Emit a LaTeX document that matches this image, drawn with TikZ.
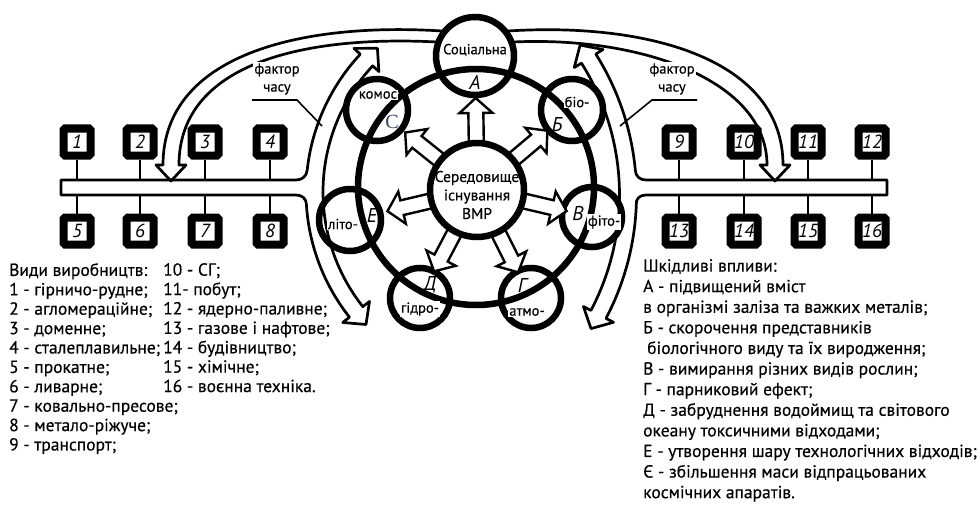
\documentclass[tikz,border=0pt]{standalone}
\usepackage{fontspec}
\setmainfont{PT Sans}
\newfontfamily\legfont{PT Sans}[FakeBold=0.4]
\newfontfamily\seriffont{Liberation Serif}
\usetikzlibrary{calc}
\definecolor{slateC}{RGB}{58,66,96}
\begin{document}
\begin{tikzpicture}[x=1pt, y=-1pt,
  band/.style={line width=2.7pt, line join=round},
  thickring/.style={draw, circle, line width=6.5pt, inner sep=0pt},
  prodbox/.style={draw, line width=8pt, fill=white, minimum width=27pt, minimum height=27pt,
    inner sep=0pt, rounded corners=1.5pt, font=\itshape\fontsize{19}{19}\selectfont},
  stub/.style={line width=1.6pt},
  hollow/.style={draw, line width=2.4pt, fill=white, line join=miter},
  satlbl/.style={fill=white, inner sep=1pt, font=\legfont\fontsize{14.5}{14.5}\selectfont},
  letter/.style={inner sep=0pt, font=\itshape\fontsize{20}{20}\selectfont},
  ptr/.style={line width=1.6pt},
  note/.style={fill=white, inner sep=1pt, align=center, font=\legfont\fontsize{14.5}{18}\selectfont},
  legend/.style={anchor=north west, inner sep=0pt, align=left}
]
\useasboundingbox (0,0) rectangle (979,508);

% left collector bar merged with the double-headed arc band
\draw[band] (61,195) -- (61,180) -- (296,180)
  .. controls (302.5,180) and (306.6,176) .. (307.2,170)
  -- plot[domain=186.25:223, samples=40, variable=\t] ({508+202*cos(\t)},{192+202*sin(\t)})
  -- (354.0,48.4) -- (377.4,48.3) -- (378.9,71.6)
  -- plot[domain=223:141.7, samples=80, variable=\t] ({508+185*cos(\t)},{192+185*sin(\t)})
  -- (369.5,301.4) -- (366.0,324.5) -- (342.8,322.5)
  -- plot[domain=141.7:176.3, samples=40, variable=\t] ({508+202*cos(\t)},{192+202*sin(\t)})
  .. controls (306.6,199) and (302.5,195) .. (296,195) -- cycle;

% right collector bar merged with the double-headed arc band
\draw[band] (887,195) -- (887,180) -- (646,180)
  .. controls (639.5,180) and (635.5,176) .. (635.3,170)
  -- plot[domain=-5.42:-32.2, samples=40, variable=\t] ({372+264.5*cos(\t)},{195+264.5*sin(\t)})
  -- (603.0,49.5) -- (580.1,45.1) -- (574.2,67.6)
  -- plot[domain=-32.2:27.8, samples=80, variable=\t] ({372+247.5*cos(\t)},{195+247.5*sin(\t)})
  -- (583.4,306.5) -- (591.0,328.6) -- (613.5,322.3)
  -- plot[domain=27.8:2.17, samples=40, variable=\t] ({372+264.5*cos(\t)},{195+264.5*sin(\t)})
  .. controls (635.5,199) and (639.5,195) .. (646,195) -- cycle;

% arcs from the social sphere down to both bars
\draw[band] (442,31) .. controls (300,22) and (163,55) .. (163,165)
  -- (156,165) -- (171,181) -- (186,165) -- (179,165)
  .. controls (179,65) and (300,35) .. (437,42);
\draw[band] (508,31) .. controls (650,22) and (783,60) .. (783,165)
  -- (790,165) -- (775,181) -- (760,165) -- (767,165)
  .. controls (767,80) and (640,36) .. (513,42);

% production boxes
\foreach \n/\x in {1/77,2/140,3/205,4/270,9/679,10/744,11/808,12/872}
  \node[prodbox] (b\n) at (\x,142) {\n};
\foreach \n/\x in {5/77,6/140,7/205,8/270,13/679,14/744,15/808,16/872}
  \node[prodbox] (b\n) at (\x,231) {\n};
\coordinate (bartop) at (0,180);
\coordinate (barbot) at (0,195);
\foreach \n in {1,2,3,4,9,10,11,12}
  \draw[stub] (b\n.south) -- (b\n.south |- bartop);
\foreach \n in {5,6,7,8,13,14,15,16}
  \draw[stub] (b\n.north) -- (b\n.north |- barbot);

% ring of spheres
\node[thickring, minimum size=236pt] (ring) at (476,187) {};
\node[thickring, minimum size=78pt] (soc) at (475,56) {};
\node[thickring, minimum size=62pt] (kos) at (377,110) {};
\node[thickring, minimum size=62pt] (bio) at (572,110) {};
\node[thickring, minimum size=62pt] (lit) at (350,220) {};
\node[thickring, minimum size=60pt] (fit) at (592,217) {};
\node[thickring, minimum size=60pt] (gid) at (420,298) {};
\node[thickring, minimum size=60pt] (atm) at (531,298) {};

% hollow arrows from the centre towards every sphere
\coordinate (ccen) at (477,190);
\foreach \s in {soc,kos,bio,lit,fit,gid,atm} {
  \coordinate (\s-s) at ($(ccen)!44pt!(\s.center)$);
  \coordinate (\s-t) at ($(ccen)!92pt!(\s.center)$);
  \coordinate (\s-h) at ($(\s-t)!15pt!(\s-s)$);
  \draw[hollow] ($(\s-s)!7.5pt!90:(\s-t)$) -- ($(\s-h)!7.5pt!-90:(\s-s)$)
    -- ($(\s-h)!16.5pt!-90:(\s-s)$) -- (\s-t) -- ($(\s-h)!16.5pt!90:(\s-s)$)
    -- ($(\s-h)!7.5pt!90:(\s-s)$) -- ($(\s-s)!7.5pt!-90:(\s-t)$) -- cycle;
}
\node[thickring, fill=white, minimum size=94pt] (cc) at (ccen) {};
\node[align=center, inner sep=0pt, font=\legfont\fontsize{15.5}{18.5}\selectfont] (cctext) at (477,195)
  {Середовище\\існування\\ВМР};

% sphere names
\node[satlbl] (soc-l) at (475,50) {Соціальна};
\node[satlbl] (kos-l) at (378,95) {комос};
\node[satlbl] (bio-l) at (577,102) {біо-};
\node[satlbl] (lit-l) at (343,224) {літо-};
\node[satlbl] (fit-l) at (604,222) {фіто-};
\node[satlbl] (gid-l) at (420,309) {гідро-};
\node[satlbl] (atm-l) at (527,312) {атмо-};

% impact letters
\node[letter] (lA) at (475,82) {А};
\node[letter] (lB) at (557,125) {Б};
\node[letter, font=\seriffont\fontsize{20}{20}\selectfont, text=slateC] (lC) at (392,122) {С};
\node[letter] (lE) at (372,215) {Е};
\node[letter] (lV) at (578,213) {В};
\node[letter] (lD) at (430,285) {Д};
\node[letter] (lG) at (522,285) {Г};

% time factor call-outs
\coordinate (lp-a) at (252,100);
\coordinate (lp-b) at (297,100);
\coordinate (lp-c) at (322,126);
\draw[ptr] (lp-a) -- (lp-b) -- (lp-c);
\node[note] (ft-l) at (277,79) {фактор\\часу};
\coordinate (rp-a) at (697,100);
\coordinate (rp-b) at (652,100);
\coordinate (rp-c) at (620,126);
\draw[ptr] (rp-a) -- (rp-b) -- (rp-c);
\node[note] (ft-r) at (672,79) {фактор\\часу};

% legends
\node[legend, font=\legfont\fontsize{17.5}{19.4}\selectfont] (leg-a) at (9,263)
  {Види виробництв:\\1 - гірничо-рудне;\\2 - агломераційне;\\3 - доменне;\\4 - сталеплавильне;\\5 - прокатне;\\6 - ливарне;\\7 - ковально-пресове;\\8 - метало-ріжуче;\\9 - транспорт;};
\node[legend, font=\legfont\fontsize{17.5}{19.4}\selectfont] (leg-b) at (163,263)
  {10 - СГ;\\11- побут;\\12 - ядерно-паливне;\\13 - газове і нафтове;\\14 - будівництво;\\15 - хімічне;\\16 - воєнна техніка.};
\node[legend, font=\legfont\fontsize{17.5}{20.6}\selectfont] (leg-c) at (643,259)
  {Шкідливі впливи:\\А - підвищений вміст\\в організмі заліза та важких металів;\\Б - скорочення представників\\\hspace*{4pt}біологічного виду та їх виродження;\\В - вимирання різних видів рослин;\\Г - парниковий ефект;\\Д - забруднення водоймищ та світового\\океану токсичними відходами;\\Е - утворення шару технологічних відходів;\\Є - збільшення маси відпрацьованих\\космічних апаратів.};
\end{tikzpicture}
\end{document}
